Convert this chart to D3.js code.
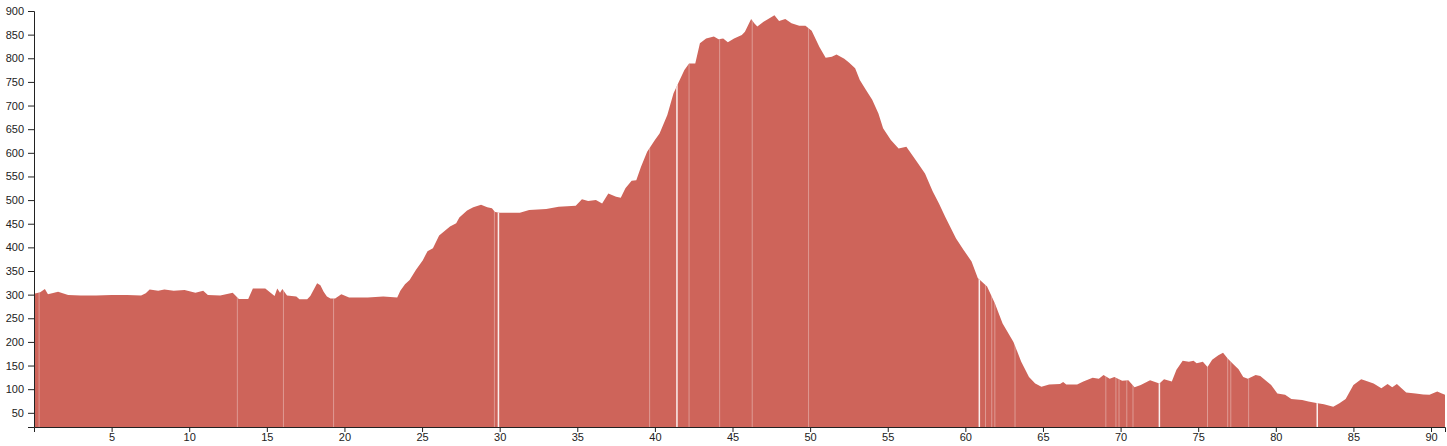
<!DOCTYPE html>
<html>
<head>
<meta charset="utf-8">
<script src="https://cdn.jsdelivr.net/npm/d3@7"></script>
<style>
  html, body { margin: 0; padding: 0; background: #fff; }
  svg { display: block; }
  .axis text { font-family: "Liberation Sans", Arial, sans-serif; font-size: 11px; fill: #222; }
  .axis path, .axis line { stroke: #222; }
</style>
</head>
<body>
<svg id="chart" width="1447" height="446"></svg>
<script>
// distance along route (km)
const distances = [
  0.0, 0.4, 0.7, 0.9, 1.55, 2.2, 3.0, 4.0, 5.0, 6.0, 6.9, 7.2, 7.45, 8.0, 8.4, 9.0, 9.7, 10.4, 10.9, 11.2,
  12.0, 12.66, 12.8, 13.2, 13.8, 14.1, 14.9, 15.5, 15.67, 15.85, 16.0, 16.3, 16.9, 17.1, 17.6, 17.8, 18.24, 18.45, 18.66, 18.87,
  19.1, 19.4, 19.8, 20.3, 21.5, 22.5, 23.4, 23.6, 23.9, 24.2, 24.6, 25.05, 25.35, 25.7, 26.1, 26.8, 27.2, 27.4, 27.9, 28.3,
  28.8, 29.2, 29.5, 29.7, 30.0, 31.3, 31.9, 33.0, 33.8, 34.9, 35.3, 35.7, 36.2, 36.6, 37.0, 37.5, 37.8, 38.1, 38.5, 38.8,
  39.1, 39.5, 40.0, 40.3, 40.8, 41.2, 41.5, 41.9, 42.2, 42.6, 42.9, 43.3, 43.8, 44.1, 44.4, 44.7, 45.1, 45.6, 45.8, 46.2,
  46.4, 46.6, 47.0, 47.3, 47.7, 48.0, 48.4, 48.8, 49.3, 49.7, 50.1, 50.6, 51.0, 51.4, 51.7, 52.2, 52.5, 52.9, 53.2, 53.6,
  54.0, 54.4, 54.7, 55.2, 55.7, 56.2, 56.8, 57.4, 57.9, 58.3, 58.7, 59.4, 59.9, 60.4, 60.8, 61.4, 61.9, 62.4, 63.1, 63.6,
  64.1, 64.5, 64.9, 65.4, 66.1, 66.3, 66.5, 67.2, 67.6, 68.2, 68.6, 68.9, 69.3, 69.6, 70.1, 70.5, 70.9, 71.3, 71.9, 72.5,
  72.8, 73.3, 73.6, 74.0, 74.4, 74.7, 74.9, 75.3, 75.6, 75.9, 76.3, 76.6, 76.9, 77.2, 77.6, 77.9, 78.2, 78.7, 79.0, 79.7,
  80.1, 80.6, 81.0, 81.7, 82.1, 82.7, 83.1, 83.7, 84.1, 84.5, 85.0, 85.5, 85.7, 86.3, 86.8, 87.2, 87.5, 87.8, 88.1, 88.4,
  89.0, 89.5, 89.9, 90.4, 90.7, 90.9
];
// elevation (m)
const elevations = [
  302, 305, 312, 301, 306, 299, 298, 298, 299, 299, 298, 303, 311, 308, 311, 308, 310, 304, 308, 299,
  298, 303, 304, 291, 291, 313, 313, 297, 313, 304, 312, 298, 296, 290, 290, 297, 324, 320, 306, 296,
  292, 292, 301, 294, 294, 296, 294, 308, 322, 331, 352, 373, 392, 398, 425, 444, 451, 463, 478, 485,
  490, 485, 483, 475, 473, 473, 479, 481, 486, 488, 502, 498, 500, 493, 514, 507, 505, 525, 541, 542,
  570, 602, 627, 641, 680, 726, 747, 775, 789, 789, 832, 842, 846, 840, 842, 834, 842, 849, 856, 883,
  874, 867, 877, 883, 891, 879, 883, 874, 869, 869, 858, 824, 801, 803, 808, 799, 791, 779, 754, 733,
  712, 683, 652, 627, 609, 613, 585, 556, 518, 493, 465, 419, 394, 370, 335, 317, 282, 239, 200, 158,
  126, 112, 105, 110, 111, 115, 110, 110, 116, 124, 122, 130, 122, 126, 118, 119, 104, 109, 119, 112,
  121, 116, 141, 160, 158, 160, 155, 158, 147, 162, 172, 177, 165, 155, 142, 126, 122, 130, 128, 109,
  91, 88, 79, 77, 74, 70, 68, 63, 70, 79, 109, 121, 119, 112, 102, 111, 104, 111, 102, 93,
  91, 89, 88, 95, 91, 88
];
// distances (km) where samples are missing (gaps in the profile)
const brightGaps = [29.92, 41.42, 60.9, 72.5, 82.67];
const faintGaps = [0.33, 13.1, 16.07, 19.3, 29.66, 39.66, 42.2, 44.17, 46.27, 49.9, 61.3, 61.7, 61.9, 63.2,
  69.05, 69.7, 69.9, 70.4, 70.8, 75.6, 76.9, 77.1, 78.25];
const xTicks = [5, 10, 15, 20, 25, 30, 35, 40, 45, 50, 55, 60, 65, 70, 75, 80, 85, 90];
const yTicks = [50, 100, 150, 200, 250, 300, 350, 400, 450, 500, 550, 600, 650, 700, 750, 800, 850, 900];
const xDomain = [0, 90.9];
const yDomain = [20, 900];

const data = distances.map((d, i) => ({ d, e: elevations[i] }));

const svg = d3.select("#chart");
const mLeft = 34, mRight = 1445, mTop = 11, mBottom = 427;

const x = d3.scaleLinear().domain(xDomain).range([mLeft, mRight]);
const y = d3.scaleLinear().domain(yDomain).range([mBottom, mTop]);

const area = d3.area()
  .x(p => x(p.d))
  .y0(y(yDomain[0]))
  .y1(p => y(p.e))
  .curve(d3.curveLinear);

svg.append("clipPath").attr("id", "profileClip")
  .append("path").attr("d", area(data));

svg.append("path")
  .attr("d", area(data))
  .attr("fill", "#ce645a");

const gapG = svg.append("g").attr("clip-path", "url(#profileClip)");
gapG.selectAll("line.bright").data(brightGaps).join("line")
  .attr("class", "bright")
  .attr("x1", d => x(d)).attr("x2", d => x(d))
  .attr("y1", y(yDomain[1])).attr("y2", y(yDomain[0]))
  .attr("stroke", "rgba(255,255,255,0.9)").attr("stroke-width", 1.5);
gapG.selectAll("line.faint").data(faintGaps).join("line")
  .attr("class", "faint")
  .attr("x1", d => x(d)).attr("x2", d => x(d))
  .attr("y1", y(yDomain[1])).attr("y2", y(yDomain[0]))
  .attr("stroke", "rgba(255,255,255,0.35)").attr("stroke-width", 1);

svg.append("g")
  .attr("class", "axis")
  .attr("transform", `translate(0,${mBottom})`)
  .call(d3.axisBottom(x).tickValues(xTicks).tickSizeOuter(0).tickSize(5).tickPadding(1).tickFormat(d3.format("d")));

svg.append("g")
  .attr("class", "axis")
  .attr("transform", `translate(${mLeft},0)`)
  .call(d3.axisLeft(y).tickValues(yTicks).tickSizeOuter(0).tickSize(6).tickPadding(4).tickFormat(d3.format("d")));
</script>
</body>
</html>
